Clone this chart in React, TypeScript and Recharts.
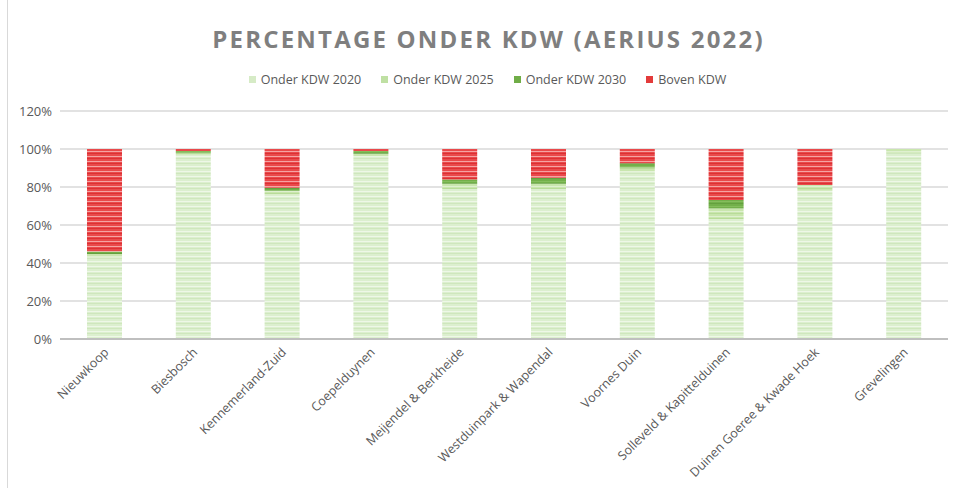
import { Bar, BarChart, CartesianGrid, XAxis, YAxis } from "recharts";

const AREAS = [
  "Nieuwkoop",
  "Biesbosch",
  "Kennemerland-Zuid",
  "Coepelduynen",
  "Meijendel & Berkheide",
  "Westduinpark & Wapendal",
  "Voornes Duin",
  "Solleveld & Kapittelduinen",
  "Duinen Goeree & Kwade Hoek",
  "Grevelingen",
];

// percentages per area
const ONDER_2020 = [43, 97, 76, 96, 79, 79, 88, 63, 78, 98];
const ONDER_2025 = [1.7, 1, 2, 1.5, 2.7, 2.7, 2.2, 5.8, 3, 2];
const ONDER_2030 = [1.3, 1, 1.6, 1.5, 2.3, 3.2, 2.3, 4.4, 0, 0];
const BOVEN = [54, 1, 20.4, 1, 16, 15.1, 7.5, 26.8, 19, 0];

const Y_TICKS = [0, 20, 40, 60, 80, 100, 120];

const SERIES = [
  { key: "o2020", name: "Onder KDW 2020", fill: "url(#p2020)", swatch: "#d6ebc6" },
  { key: "o2025", name: "Onder KDW 2025", fill: "url(#p2025)", swatch: "#bfe0a3" },
  { key: "o2030", name: "Onder KDW 2030", fill: "url(#p2030)", swatch: "#70ad47" },
  { key: "boven", name: "Boven KDW", fill: "url(#pboven)", swatch: "#e33b3b" },
];

const data = AREAS.map((name, i) => ({
  name,
  o2020: ONDER_2020[i],
  o2025: ONDER_2025[i],
  o2030: ONDER_2030[i],
  boven: BOVEN[i],
}));

const FONT = "'Open Sans', 'Liberation Sans', sans-serif";
const TEXT = "#595959";

function CategoryTick({ x, y, payload }: any) {
  return (
    <text
      x={x + 5}
      y={y + 6}
      textAnchor="end"
      transform={`rotate(-45, ${x + 5}, ${y + 6})`}
      fontSize={12.5}
      fontFamily={FONT}
      fill={TEXT}
    >
      {payload.value}
    </text>
  );
}

function LegendRow() {
  return (
    <div
      style={{
        position: "absolute",
        left: 0,
        top: 71,
        width: 953,
        display: "flex",
        justifyContent: "center",
        gap: 20,
        fontFamily: FONT,
        fontSize: 12.5,
        color: TEXT,
        paddingLeft: 22,
        boxSizing: "border-box",
      }}
    >
      {SERIES.map((s) => (
        <div key={s.key} style={{ display: "flex", alignItems: "center" }}>
          <span style={{ width: 7, height: 7, background: s.swatch, marginRight: 5, display: "inline-block" }} />
          {s.name}
        </div>
      ))}
    </div>
  );
}

function Stripes({ id, base, dark, light }: { id: string; base: string; dark: string; light: string }) {
  return (
    <pattern id={id} patternUnits="userSpaceOnUse" width={6} height={5}>
      <rect width={6} height={5} fill={base} />
      <rect y={1} width={6} height={1} fill={light} />
      <rect y={3} width={6} height={1} fill={dark} />
    </pattern>
  );
}

export default function App() {
  return (
    <div style={{ position: "absolute", left: 0, top: 0, width: 953, height: 488, background: "#fff", overflow: "hidden" }}>
      <div
        style={{
          position: "absolute",
          left: 7,
          top: -1,
          width: 960,
          height: 495,
          border: "1px solid #d9d9d9",
        }}
      />
      <div
        style={{
          position: "absolute",
          left: 12,
          top: 22,
          width: 953,
          textAlign: "center",
          fontFamily: FONT,
          fontWeight: 700,
          fontSize: 24,
          letterSpacing: 2.2,
          color: "#7f7f7f",
        }}
      >
        PERCENTAGE ONDER KDW (AERIUS 2022)
      </div>
      <LegendRow />
      <BarChart
        width={953}
        height={488}
        data={data}
        margin={{ top: 111, right: 5, left: 0, bottom: 0 }}
        barSize={35}
        style={{ position: "absolute", left: 0, top: 0 }}
      >
        <defs>
          <Stripes id="p2020" base="#dcefcf" dark="#cfe7bd" light="#eef7e7" />
          <Stripes id="p2025" base="#c9e6ae" dark="#b8dc98" light="#dff0d0" />
          <Stripes id="p2030" base="#72b04a" dark="#64a03e" light="#84bd5c" />
          <Stripes id="pboven" base="#e9494b" dark="#dc3033" light="#f5a3a3" />
        </defs>
        <CartesianGrid vertical={false} stroke="#d9d9d9" strokeWidth={1.5} />
        <XAxis
          dataKey="name"
          interval={0}
          height={149}
          tick={<CategoryTick />}
          tickLine={false}
          axisLine={{ stroke: "#bfbfbf", strokeWidth: 2 }}
        />
        <YAxis
          width={60}
          domain={[0, 120]}
          ticks={Y_TICKS}
          tickFormatter={(v) => `${v}%`}
          tick={{ fill: TEXT, fontSize: 13, fontFamily: FONT }}
          tickLine={false}
          axisLine={false}
        />
        {SERIES.map((s) => (
          <Bar key={s.key} dataKey={s.key} name={s.name} stackId="a" fill={s.fill} isAnimationActive={false} />
        ))}
      </BarChart>
    </div>
  );
}
